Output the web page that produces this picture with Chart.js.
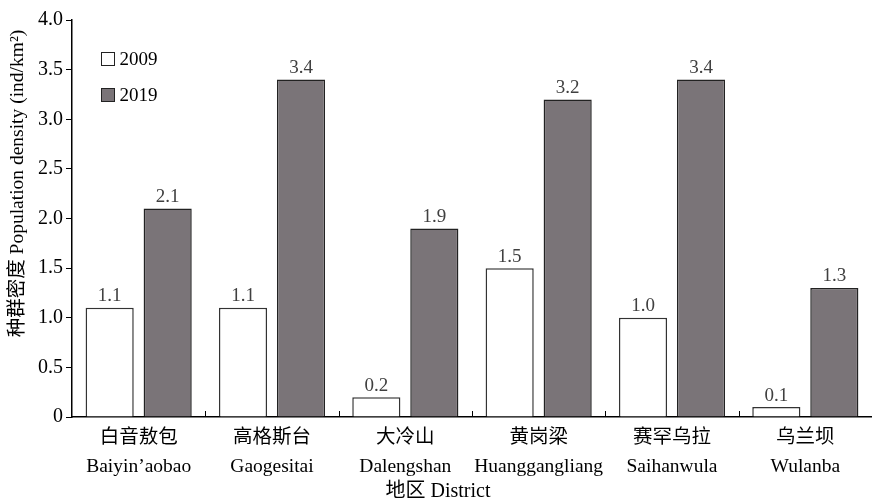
<!DOCTYPE html>
<html>
<head>
<meta charset="utf-8">
<script src="https://cdn.jsdelivr.net/npm/chart.js@4/dist/chart.umd.min.js"></script>
<style>
  html, body { margin: 0; padding: 0; background: #fff; }
  #wrap { width: 872px; height: 501px; }
</style>
</head>
<body>
<div id="wrap"><canvas id="c" width="872" height="501"></canvas></div>
<script>
// District names (Chinese / pinyin)
const districtsCN = ['白音敖包', '高格斯台', '大冷山', '黄岗梁', '赛罕乌拉', '乌兰坝'];
const districtsEN = ["Baiyin\u2019aobao", 'Gaogesitai', 'Dalengshan', 'Huanggangliang', 'Saihanwula', 'Wulanba'];

// Population density (ind/km²)
const density2009 = [1.1, 1.1, 0.2, 1.5, 1.0, 0.1];
const density2019 = [2.1, 3.4, 1.9, 3.2, 3.4, 1.3];

// Y axis ticks
const yTicks = [0, 0.5, 1.0, 1.5, 2.0, 2.5, 3.0, 3.5, 4.0];

const xTitle = '地区 District';

const SERIF = '"Liberation Serif", "Times New Roman", "Noto Sans CJK SC", serif';
const CJK_SERIF = '"Liberation Serif", "Noto Sans CJK SC", serif';

// Value labels above each bar
const valueLabels = {
  id: 'valueLabels',
  afterDatasetsDraw(chart) {
    const ctx = chart.ctx;
    ctx.save();
    ctx.font = '19px ' + SERIF;
    ctx.fillStyle = '#404040';
    ctx.textAlign = 'center';
    ctx.textBaseline = 'bottom';
    chart.data.datasets.forEach((ds, di) => {
      chart.getDatasetMeta(di).data.forEach((bar, i) => {
        ctx.fillText(ds.data[i].toFixed(1), bar.x, bar.y - 2);
      });
    });
    ctx.restore();
  }
};

// Short inward ticks on the x axis between districts
const innerTicks = {
  id: 'innerTicks',
  afterDraw(chart) {
    const xs = chart.scales.x;
    const ctx = chart.ctx;
    const y0 = chart.chartArea.bottom;
    ctx.save();
    ctx.strokeStyle = '#000';
    ctx.lineWidth = 1;
    for (let i = 1; i < xs.ticks.length; i++) {
      const x = Math.round((xs.getPixelForValue(i - 1) + xs.getPixelForValue(i)) / 2) + 0.5;
      ctx.beginPath();
      ctx.moveTo(x, y0);
      ctx.lineTo(x, y0 - 6);
      ctx.stroke();
    }
    ctx.restore();
  }
};

// X axis title, centred on the whole figure
const bottomTitle = {
  id: 'bottomTitle',
  afterDraw(chart) {
    const ctx = chart.ctx;
    ctx.save();
    ctx.font = '20px ' + CJK_SERIF;
    ctx.fillStyle = '#000';
    ctx.textAlign = 'center';
    ctx.textBaseline = 'middle';
    ctx.fillText(xTitle, chart.width / 2 + 2, chart.height - 9);
    ctx.restore();
  }
};

// Legend drawn inside the plot area, top-left
const innerLegend = {
  id: 'innerLegend',
  afterDraw(chart) {
    const ctx = chart.ctx;
    const a = chart.chartArea;
    ctx.save();
    ctx.font = '19px ' + SERIF;
    ctx.textBaseline = 'middle';
    ctx.textAlign = 'left';
    chart.data.datasets.forEach((ds, i) => {
      const cy = a.top + 39 + i * 36;
      const bx = a.left + 29.5;
      ctx.fillStyle = ds.backgroundColor;
      ctx.fillRect(bx, cy - 6.5, 13, 13);
      ctx.strokeStyle = '#222';
      ctx.lineWidth = 1;
      ctx.strokeRect(bx, cy - 6.5, 13, 13);
      ctx.fillStyle = '#000';
      ctx.fillText(ds.label, bx + 18, cy + 1);
    });
    ctx.restore();
  }
};

new Chart(document.getElementById('c'), {
  type: 'bar',
  data: {
    labels: districtsCN.map((cn, i) => [cn, districtsEN[i]]),
    datasets: [
      {
        label: '2009',
        data: density2009,
        backgroundColor: '#ffffff',
        borderColor: '#333333',
        borderWidth: 1.5,
        categoryPercentage: 0.87,
        barPercentage: 0.83
      },
      {
        label: '2019',
        data: density2019,
        backgroundColor: '#7a7478',
        borderColor: '#222222',
        borderWidth: 1.5,
        categoryPercentage: 0.87,
        barPercentage: 0.83
      }
    ]
  },
  options: {
    responsive: false,
    animation: false,
    devicePixelRatio: 1,
    layout: { padding: { top: 20, right: 0, left: 0, bottom: 0 } },
    plugins: {
      legend: { display: false },
      tooltip: { enabled: false }
    },
    scales: {
      x: {
        grid: { display: false, drawTicks: false },
        border: { display: true, color: '#000', width: 1.5 },
        ticks: {
          color: '#000',
          font: { family: CJK_SERIF, size: 19.5, lineHeight: 1.5 },
          padding: 6,
          maxRotation: 0,
          autoSkip: false
        },
        title: { display: false },
        afterFit(scale) { scale.height = 84; }
      },
      y: {
        min: 0,
        max: 4,
        afterBuildTicks(scale) { scale.ticks = yTicks.map(v => ({ value: v })); },
        grid: { drawOnChartArea: false, drawTicks: true, tickLength: 6, color: '#000', lineWidth: 1 },
        border: { display: true, color: '#000', width: 1.5 },
        ticks: {
          color: '#000',
          font: { family: SERIF, size: 20 },
          padding: 3,
          callback: v => (v === 0 ? '0' : Number(v).toFixed(1))
        },
        title: {
          display: true,
          align: 'end',
          text: '种群密度 Population density (ind/km²)  ',
          color: '#000',
          font: { family: CJK_SERIF, size: 19.5 },
          padding: { top: 6, bottom: 0 }
        },
        afterFit(scale) { scale.width = 72; }
      }
    }
  },
  plugins: [valueLabels, innerTicks, bottomTitle, innerLegend]
});
</script>
</body>
</html>
